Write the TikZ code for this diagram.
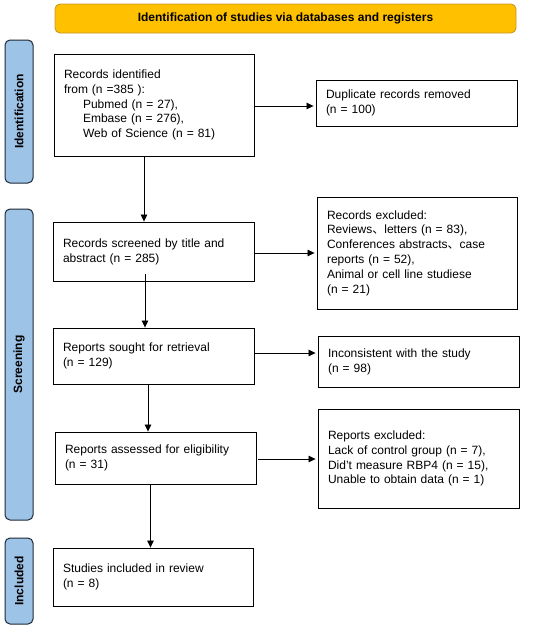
\documentclass[tikz,border=0pt]{standalone}
\usepackage{fontspec}
\setmainfont{Liberation Sans}
\newfontfamily\cjk{Noto Sans CJK SC}
\newcommand{\dun}{{\cjk 、}}
\usetikzlibrary{arrows.meta}
\definecolor{bannerfill}{HTML}{FFC000}
\definecolor{bannerdraw}{HTML}{C8982A}
\definecolor{barfill}{HTML}{9DC3E6}
\definecolor{bardraw}{HTML}{1F2A38}
\begin{document}
\begin{tikzpicture}[x=1pt,y=-1pt,
  every node/.style={font=\fontsize{12}{14.8}\selectfont},
  box/.style={draw=black, line width=0.9pt, align=left, inner xsep=10pt, inner ysep=0pt, anchor=center},
  banner/.style={draw=bannerdraw, fill=bannerfill, line width=0.9pt, rounded corners=5pt, font=\fontsize{12}{14.8}\selectfont\bfseries},
  phase/.style={draw=bardraw, fill=barfill, line width=1pt, rounded corners=5pt, rotate=90, font=\fontsize{12}{14.8}\selectfont\bfseries},
  arr/.style={draw=black, line width=0.8pt, -{Triangle[length=7pt,width=6.5pt]}}
]
\useasboundingbox (0,0) rectangle (550,629);
\fill[white] (0,0) rectangle (550,629);

% banner
\node[banner, minimum width=461pt, minimum height=29pt] (banner) at (285.5,18.5) {Identification of studies via databases and registers};

% phase bars
\node[phase, minimum width=143pt, minimum height=28pt] (pid) at (19,111.5) {Identification};
\node[phase, minimum width=311pt, minimum height=28pt] (pscr) at (19,364.5) {Screening};
\node[phase, minimum width=86pt, minimum height=28pt] (pinc) at (19,581) {Included};

% left boxes
\node[box, minimum width=200pt, minimum height=102pt, text width=180pt] (b1) at (154,105)
  {Records identified\\from (n =385 ):\\\hspace*{19pt}Pubmed (n = 27),\\\hspace*{19pt}Embase (n = 276),\\\hspace*{19pt}Web of Science (n = 81)};
\node[box, minimum width=201pt, minimum height=59pt, text width=181pt] (b2) at (153.5,251.5)
  {Records screened by title and\\abstract (n = 285)};
\node[box, minimum width=201pt, minimum height=56pt, text width=181pt] (b3) at (153.5,356)
  {Reports sought for retrieval\\(n = 129)};
\node[box, minimum width=201pt, minimum height=52pt, text width=181pt] (b4) at (155.5,458)
  {Reports assessed for eligibility\\(n = 31)};
\node[box, minimum width=200pt, minimum height=58pt, text width=180pt] (b5) at (153,577)
  {Studies included in review\\(n = 8)};

% right boxes
\node[box, minimum width=201pt, minimum height=46pt, text width=181pt] (dup) at (416.5,103)
  {Duplicate records removed\\(n = 100)};
\node[box, minimum width=200pt, minimum height=112pt, text width=180pt] (excl) at (417,253)
  {Records excluded:\\Reviews\dun letters (n = 83),\\Conferences abstracts\dun case\\reports (n = 52),\\Animal or cell line studiese\\(n = 21)};
\node[box, minimum width=201pt, minimum height=51pt, text width=181pt] (inc) at (418.5,361.5)
  {Inconsistent with the study\\(n = 98)};
\node[box, minimum width=201pt, minimum height=99pt, text width=181pt] (rexcl) at (418.5,458.5)
  {Reports excluded:\\Lack of control group (n = 7),\\Did't measure RBP4 (n = 15),\\Unable to obtain data (n = 1)};

% vertical arrows
\draw[arr] ([xshift=-10pt]b1.south) -- ([xshift=-10pt]b1.south |- b2.north);
\draw[arr] ([xshift=-8.5pt,yshift=7pt]b2.south) -- ([xshift=-8.5pt]b2.south |- b3.north);
\draw[arr] ([xshift=-5.5pt]b3.south) -- ([xshift=-5.5pt]b3.south |- b4.north);
\draw[arr] ([xshift=-5pt]b4.south) -- ([xshift=-5pt]b4.south |- b5.north);

% horizontal arrows
\draw[arr] ([yshift=-1pt]b1.east) -- ([xshift=-2pt,yshift=-1pt]b1.east -| dup.west);
\draw[arr] ([xshift=1pt]b2.east |- excl.west) -- ([xshift=-2pt]excl.west);
\draw[arr] ([yshift=3pt]b3.east) -- ([xshift=-2pt,yshift=3pt]b3.east -| inc.west);
\draw[arr] ([xshift=2pt,yshift=-1pt]b4.east) -- ([xshift=-2pt,yshift=-1pt]b4.east -| rexcl.west);
\end{tikzpicture}
\end{document}
